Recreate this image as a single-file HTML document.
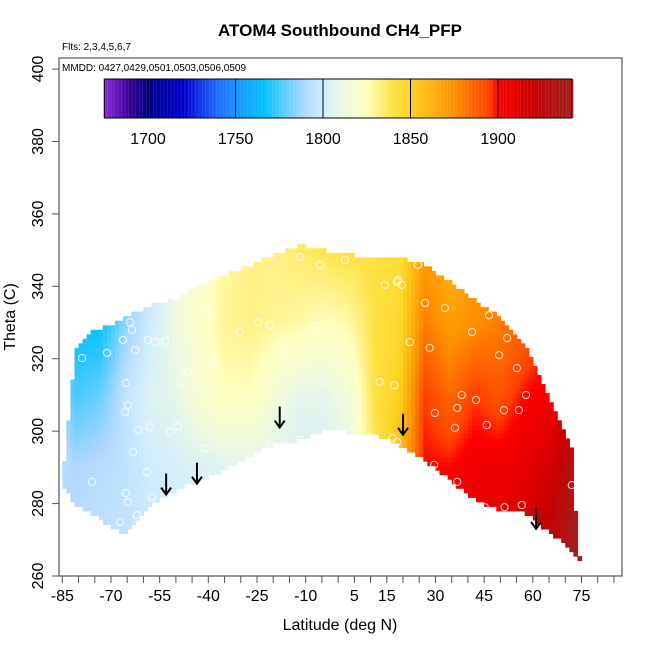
<!DOCTYPE html>
<html><head><meta charset="utf-8"><style>
html,body{margin:0;padding:0;background:#fff;}
svg{display:block;font-family:"Liberation Sans",Arial,sans-serif;}
</style></head><body>
<svg id="chart" width="650" height="650" viewBox="0 0 650 650" xmlns="http://www.w3.org/2000/svg">
<text x="340" y="36" text-anchor="middle" font-size="17" font-weight="bold">ATOM4 Southbound CH4_PFP</text>
<text x="62" y="50" font-size="10">Flts: 2,3,4,5,6,7</text>
<g id="heat"></g>
<g id="pts"></g>
<g id="arrows"></g>
<rect x="59" y="58" width="563" height="518" fill="none" stroke="#555" stroke-width="1.2"/>
<text x="62" y="71" font-size="10">MMDD: 0427,0429,0501,0503,0506,0509</text>
<g id="cbar"></g>
<g id="xaxis"></g>
<g id="yaxis"></g>
<text x="340" y="630" text-anchor="middle" font-size="16">Latitude (deg N)</text>
<text transform="translate(15,317) rotate(-90)" text-anchor="middle" font-size="16">Theta (C)</text>
</svg>
<script>
const NS="http://www.w3.org/2000/svg";
// ---- data ----
const latNodes=[-85,-81.1,-73.4,-65.7,-58,-50.3,-42.6,-34.9,-27.2,-19.5,-11.8,-4.1,3.6,11.3,19,26.7,34.5,42.2,49.9,57.6,65.3,73];
const thetaNodes=[270,290,310,330,350];
const ch4Values=[
[1792,1792,1790,1788,1788],
[1792,1790,1775,1765,1765],
[1795,1792,1780,1765,1765],
[1795,1795,1795,1785,1775],
[1798,1800,1805,1800,1790],
[1800,1802,1808,1812,1812],
[1802,1804,1818,1822,1820],
[1802,1806,1825,1830,1828],
[1802,1806,1825,1832,1832],
[1803,1805,1815,1830,1832],
[1803,1803,1808,1828,1835],
[1803,1803,1808,1825,1838],
[1805,1806,1815,1828,1840],
[1835,1838,1840,1840,1840],
[1862,1858,1850,1845,1842],
[1905,1900,1895,1880,1870],
[1905,1900,1885,1870,1862],
[1910,1905,1895,1875,1870],
[1910,1905,1890,1880,1875],
[1915,1910,1900,1885,1880],
[1925,1915,1905,1895,1890],
[1940,1935,1920,1905,1900]];
const edgeLats=[-85,-81.1,-77,-73.4,-65.7,-58,-50.3,-42.6,-34.9,-27.2,-19.5,-11.8,-4.1,3.6,11.3,19,26.7,34.5,42.2,49.9,57.6,65.3,72.1,73.9];
const topTheta=[286.5,321.8,327,328,331.3,334.8,336.8,340.4,343.1,345.9,348.7,351.4,350,348.7,348.4,347.8,345.9,341.2,336.2,331.3,323.8,308.6,294.8,265.8];
const bottomTheta=[285.1,280,278,275.5,271.3,279.6,283.8,286.5,289.3,293.4,296.2,297.6,300.3,299.8,298.9,296.2,292,286.5,281,278.2,277.7,271.9,267.2,264.4];
const ptLat=[-71.2,-78.9,-64.1,-63.5,-62.6,-58.6,-53.3,-56.4,-65.4,-64.8,-65.7,-61.7,-58,-63.2,-58.9,-65.4,-67.2,-62,-64.8,-75.8,-57.4,-51.8,-49.4,-48.2,-46.3,-50.3,-40.4,-38.9,-38.5,-41,-33.3,-30.3,-24.7,-21,-21,-16.4,-11.8,-7.2,-11.8,-5.6,2.1,14.4,18.1,18.4,19.7,24.6,26.8,32.9,22.1,28.2,12.8,17.3,16.7,18.2,29.6,36.7,41.3,46.5,49.6,52.1,55.1,57.9,55.7,51.1,38.1,36,45.8,29.8,42.5,59.4,45.2,51.3,56.6,72,36.7,-66.3];
const ptTheta=[321.6,320.2,330.1,328,322.4,325.2,324.9,324.6,313.3,307.2,305.3,300.3,301.1,294.2,288.7,282.9,274.9,276.8,280.4,286,281.8,299.8,301.4,313.3,316.3,337.3,334,331.3,319.4,295.3,289.3,327.4,330.1,329.3,296.2,321,297.6,329,348.1,345.9,347.3,340.4,341.2,341.7,340.4,345.9,335.4,334,324.6,323,313.6,312.7,298.1,297,290.7,286,327.4,332,321,325.7,317.4,310,305.8,305.8,310,300.9,301.7,305,308.6,328.8,279,279,279.6,285.1,306.4,325.2];
const arrowLat=[-53,-43.5,-18,20,61];
const arrowTheta=[282.5,285.5,301,299,273];
const xTicks=[-85,-80,-75,-70,-65,-60,-55,-50,-45,-40,-35,-30,-25,-20,-15,-10,-5,0,5,10,15,20,25,30,35,40,45,50,55,60,65,70,75,80,85];
const xLabels=[-85,-70,-55,-40,-25,-10,5,15,30,45,60,75];
const yTicks=[260,280,300,320,340,360,380,400];
const cbTicks=[1700,1750,1800,1850,1900];
const cmapVals=[1675,1690,1700,1720,1740,1750,1765,1790,1800,1812,1825,1840,1850,1875,1895,1900,1920,1942];
const cmapCols=["#8a2be2","#3a0090","#00008b","#0000cd","#1e6fff","#1e90ff","#00bfff","#b0d8ff","#d0ecff","#f0fae0","#ffffc0","#ffe040","#ffd020","#ff9000","#ff4000","#ff0000","#c80000","#a02020"];
// ---- scales ----
const X=l=>62.3+(l+85)*3.245;
const Y=t=>576-(t-260)*3.621;
const CB=v=>148+(v-1700)*1.75;
function interp(xs,ys,x){if(x<=xs[0])return ys[0];for(let i=1;i<xs.length;i++){if(x<=xs[i]){const f=(x-xs[i-1])/(xs[i]-xs[i-1]);return ys[i-1]+f*(ys[i]-ys[i-1]);}}return ys[ys.length-1];}
function hex(h){return[parseInt(h.substr(1,2),16),parseInt(h.substr(3,2),16),parseInt(h.substr(5,2),16)];}
function color(v){v=Math.max(cmapVals[0],Math.min(cmapVals[cmapVals.length-1],v));let i=1;while(i<cmapVals.length-1&&v>cmapVals[i])i++;const f=(v-cmapVals[i-1])/(cmapVals[i]-cmapVals[i-1]);const a=hex(cmapCols[i-1]),b=hex(cmapCols[i]);return"rgb("+a.map((c,k)=>Math.round(c+f*(b[k]-c))).join(",")+")";}
function value(l,t){const col=latNodes.map((_,i)=>interp(thetaNodes,ch4Values[i],t));return interp(latNodes,col,l);}
function mk(tag,attrs,parent){const e=document.createElementNS(NS,tag);for(const k in attrs)e.setAttribute(k,attrs[k]);parent.appendChild(e);return e;}
// ---- heatmap ----
const heat=document.getElementById('heat');
const dL=1.25,dT=1.25;
for(let l=-85;l<74;l+=dL){const lc=l+dL/2;const tp=interp(edgeLats,topTheta,lc),bt=interp(edgeLats,bottomTheta,lc);
 for(let t=258;t<356;t+=dT){const tc=t+dT/2;if(tc>tp||tc<bt)continue;
  const r=mk('rect',{x:X(l).toFixed(2),y:Y(t+dT).toFixed(2),width:(dL*3.245+0.6).toFixed(2),height:(dT*3.621+0.6).toFixed(2),fill:color(value(lc,tc))},heat);
  
  }}
// ---- points ----
const pts=document.getElementById('pts');
ptLat.forEach((l,i)=>{const c=mk('circle',{cx:X(l),cy:Y(ptTheta[i]),r:3.6,fill:'none',stroke:'#fff','stroke-opacity':0.85,'stroke-width':1},pts);
 
 });
// ---- arrows ----
const ar=document.getElementById('arrows');
arrowLat.forEach((l,i)=>{const x=X(l),y=Y(arrowTheta[i]);const g=mk('g',{},ar);
 
 
 mk('line',{x1:x,y1:y-21,x2:x,y2:y,stroke:'#000','stroke-width':2},g);
 mk('path',{d:`M${x-5},${y-7} L${x},${y} L${x+5},${y-7}`,fill:'none',stroke:'#000','stroke-width':2},g);});
// ---- colorbar ----
const cb=document.getElementById('cbar');
for(let v=1675;v<1942;v+=2){const r=mk('rect',{x:CB(v),y:79,width:3.6,height:39,fill:color(v+1)},cb);
 
 }
mk('rect',{x:CB(1675),y:79,width:CB(1942)-CB(1675),height:39,fill:'none',stroke:'#000','stroke-width':1},cb);
cbTicks.forEach(v=>{mk('line',{x1:CB(v),y1:79,x2:CB(v),y2:118,stroke:'#000','stroke-width':1},cb);
 const t=mk('text',{x:CB(v),y:144,'text-anchor':'middle','font-size':16},cb);t.textContent=v;
 
 });
// ---- axes ----
const xa=document.getElementById('xaxis');
xTicks.forEach(v=>{mk('line',{x1:X(v),y1:576,x2:X(v),y2:583,stroke:'#555','stroke-width':1},xa);});
xLabels.forEach(v=>{const t=mk('text',{x:X(v),y:601,'text-anchor':'middle','font-size':16},xa);t.textContent=v;
 
 });
const ya=document.getElementById('yaxis');
yTicks.forEach(v=>{mk('line',{x1:52,y1:Y(v),x2:59,y2:Y(v),stroke:'#555','stroke-width':1},ya);
 const t=mk('text',{transform:`translate(43,${Y(v)}) rotate(-90)`,'text-anchor':'middle','font-size':16},ya);t.textContent=v;
 
 });
</script>
</body></html>
